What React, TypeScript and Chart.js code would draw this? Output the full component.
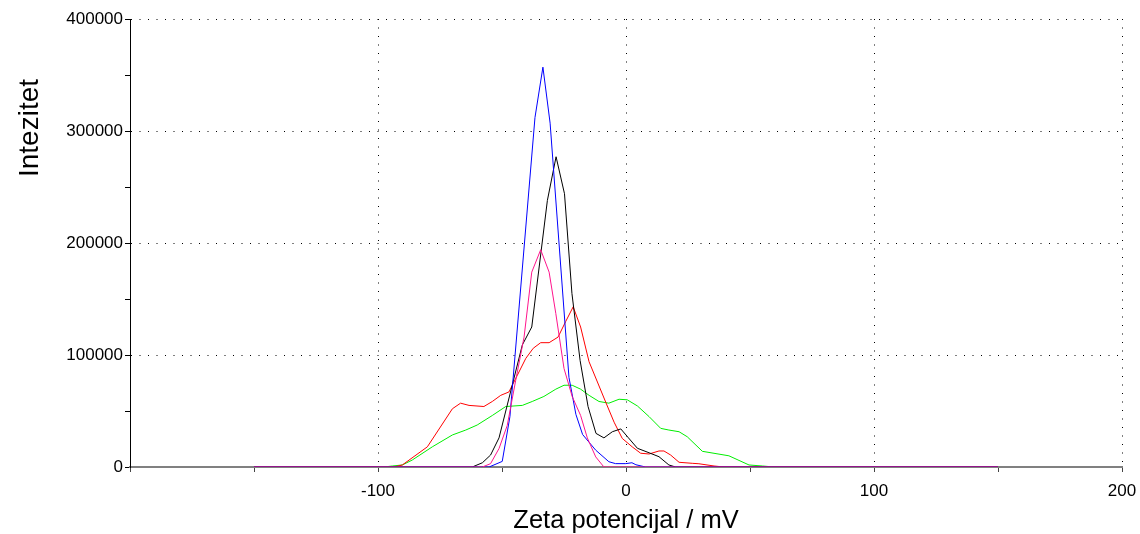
import React, { useEffect, useRef } from 'react';
import { Chart, registerables } from 'chart.js';

Chart.register(...registerables);

const X_TITLE = 'Zeta potencijal / mV';
const Y_TITLE = 'Intezitet';

// x tick labels shown, y tick labels shown
const xLabeledTicks = [-100, 0, 100, 200];
const yLabeledTicks = [0, 100000, 200000, 300000, 400000];

// Series (zeta potential in mV, intensity)
const greenX = [-150, -97.6, -94.2, -90.2, -86.2, -78.1, -70.0, -64.6, -60.0, -53.9, -48.5, -41.8, -37.8, -33.1, -28.3, -25.0, -21.7, -18.3, -14.9, -10.9, -6.9, -2.8, 0.5, 4.6, 9.3, 14.0, 17.3, 21.4, 24.7, 30.8, 41.5, 49.6, 55.0, 59.7, 150];
const greenY = [0, 0, 900, 1800, 6200, 18000, 28600, 33000, 37500, 46000, 54000, 55000, 58500, 63000, 69500, 73000, 73000, 69500, 64000, 58500, 57000, 60500, 60000, 54500, 45000, 34500, 33000, 31500, 27000, 14000, 10000, 1800, 900, 0, 0];

const redX = [-150, -93.5, -90.2, -80.1, -70.0, -66.7, -63.3, -57.3, -53.9, -50.5, -47.2, -43.8, -40.4, -37.4, -34.4, -31.0, -27.4, -24.3, -21.3, -18.3, -14.9, -8.2, -4.8, -1.5, 2.5, 5.9, 9.3, 13.3, 15.3, 18.0, 21.4, 26.7, 29.4, 35.5, 39.5, 150];
const redY = [0, 0, 1800, 18000, 52000, 57000, 55000, 54000, 58500, 64000, 67000, 82000, 97000, 106000, 111000, 111000, 116000, 130000, 143000, 125000, 94000, 58000, 40000, 25500, 18000, 12300, 11600, 14300, 14300, 10700, 4200, 3300, 2900, 900, 0, 0];

const blackX = [-150, -62.0, -57.9, -54.6, -51.2, -41.8, -38.0, -31.7, -28.2, -24.8, -21.8, -18.5, -15.3, -12.1, -8.9, -5.5, -2.1, 1.0, 4.6, 9.3, 13.3, 17.3, 20.0, 150];
const blackY = [0, 0, 3800, 10700, 26000, 109000, 125000, 238000, 277000, 244000, 155000, 95000, 54000, 30000, 26000, 31500, 34000, 26000, 16700, 12700, 9200, 1800, 0, 0];

const blueX = [-150, -55.2, -49.9, -46.8, -36.7, -33.5, -30.6, -23.0, -20.2, -17.5, -12.2, -6.9, -4.2, -0.1, 2.4, 4.0, 7.9, 150];
const blueY = [0, 0, 5000, 45000, 312000, 357000, 307000, 80000, 47000, 29000, 15000, 4700, 3000, 3000, 3800, 2000, 0, 0];

const pinkX = [-150, -57.9, -54.6, -51.2, -47.9, -44.5, -41.1, -38.0, -34.4, -31.0, -28.3, -25.0, -21.7, -18.3, -15.6, -12.2, -8.9, 150];
const pinkY = [0, 0, 3000, 16500, 37000, 77000, 116000, 174000, 194000, 174000, 137000, 88000, 63000, 46000, 26000, 9000, 0, 0];

const FONT = '"Liberation Sans", Arial, sans-serif';

const toPoints = (xs: number[], ys: number[]) => xs.map((x, i) => ({ x, y: ys[i] }));

const yTitlePlugin = {
  id: 'yTitlePlugin',
  afterDraw(chart: any) {
    const ctx = chart.ctx;
    ctx.save();
    ctx.translate(30, 128);
    ctx.rotate(-Math.PI / 2);
    ctx.font = `28px ${FONT}`;
    ctx.fillStyle = '#000';
    ctx.textAlign = 'center';
    ctx.textBaseline = 'middle';
    ctx.fillText(Y_TITLE, 0, 0);
    ctx.restore();
  },
};

export default function App() {
  const canvasRef = useRef<HTMLCanvasElement | null>(null);

  useEffect(() => {
    if (!canvasRef.current) return;
    const mk = (label: string, xs: number[], ys: number[], color: string) => ({
      label,
      data: toPoints(xs, ys),
      borderColor: color,
      backgroundColor: color,
      borderWidth: 1,
      pointRadius: 0,
      tension: 0,
      fill: false,
    });
    const chart = new Chart(canvasRef.current, {
      type: 'line',
      data: {
        datasets: [
          mk('pink', pinkX, pinkY, 'rgb(255,20,140)'),
          mk('blue', blueX, blueY, '#0000ff'),
          mk('black', blackX, blackY, '#000000'),
          mk('red', redX, redY, '#ff0000'),
          mk('green', greenX, greenY, '#00ee00'),
        ],
      },
      options: {
        animation: false,
        responsive: false,
        devicePixelRatio: 1,
        layout: { padding: { top: 19, right: 18, left: 0, bottom: 0 } },
        plugins: { legend: { display: false }, tooltip: { enabled: false } },
        scales: {
          x: {
            type: 'linear',
            min: -200,
            max: 200,
            afterFit: (s: any) => { s.height = 67; s.paddingRight = 0; s.paddingLeft = 0; },
            ticks: {
              stepSize: 50,
              autoSkip: false,
              maxRotation: 0,
              padding: 9,
              color: '#000',
              font: { family: FONT, size: 17 },
              callback: (v: any) => (xLabeledTicks.includes(Number(v)) ? String(v) : ''),
            },
            grid: {
              color: (c: any) => (c.tick && xLabeledTicks.includes(c.tick.value) && c.tick.value !== -200 ? '#000' : 'rgba(0,0,0,0)'),
              tickColor: '#444',
              tickLength: 5,
              lineWidth: 1,
            },
            border: { color: '#808080', width: 2, dash: [1, 7.5] },
            title: {
              display: true,
              text: X_TITLE,
              color: '#000',
              font: { family: FONT, size: 25.5, lineHeight: 1 },
              padding: { top: 0, bottom: 0 },
            },
          },
          y: {
            type: 'linear',
            min: 0,
            max: 400000,
            afterFit: (s: any) => { s.width = 130; },
            ticks: {
              stepSize: 50000,
              autoSkip: false,
              padding: 2,
              color: '#000',
              font: { family: FONT, size: 17 },
              callback: (v: any) => (yLabeledTicks.includes(Number(v)) ? String(v) : ''),
            },
            grid: {
              color: (c: any) => (c.tick && c.tick.value !== 0 && yLabeledTicks.includes(c.tick.value) ? '#000' : 'rgba(0,0,0,0)'),
              tickColor: '#000',
              tickLength: 5,
              lineWidth: 1,
            },
            border: { color: '#000', width: 1, dash: [1, 7.5] },
          },
        },
      },
      plugins: [yTitlePlugin],
    });
    return () => chart.destroy();
  }, []);

  return (
    <div style={{ position: 'fixed', left: 0, top: 0, width: 1140, height: 534, background: '#fff' }}>
      <canvas ref={canvasRef} width={1140} height={534} style={{ display: 'block' }} />
    </div>
  );
}
